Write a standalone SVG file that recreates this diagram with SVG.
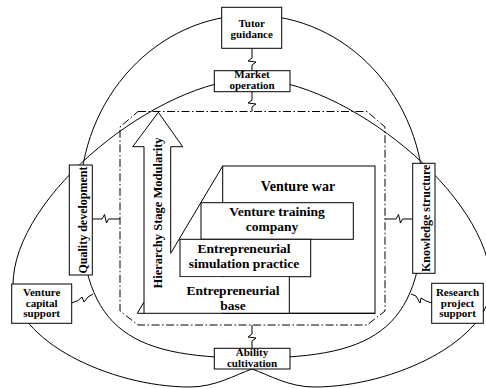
<svg xmlns="http://www.w3.org/2000/svg" width="486" height="389" viewBox="0 0 486 389">
<defs>
<style>
.c{fill:none;stroke:#000;stroke-width:1}
.b{fill:#fff;stroke:#000;stroke-width:1}
.w{fill:#fff;stroke:none}
.dd{fill:none;stroke:#000;stroke-width:1;stroke-dasharray:8 2.5 1.5 2.5}
.t{font-family:"Liberation Serif","Times New Roman",serif;font-weight:bold;fill:#000;text-anchor:middle}
.s{font-size:11px}
.v{font-size:12px}
.st{font-size:14px}
.st2{font-size:13.5px}
.h{font-size:12.5px}
</style>
</defs>
<rect width="486" height="389" fill="#fff"/>
<g id="rings">
<path class="c" d="M 252 15 C 157 15 80 98 80 200 C 80 326 123 358 252 358 C 381 358 424 326 424 200 C 424 98 347 15 252 15 Z"/>
<path class="c" d="M 252 79 C 160 79 13 195 13 285 C 13 340 110 387 190 387 C 215 387 235 375 252 369 C 269 375 289 387 314 387 C 394 387 491 340 491 285 C 491 195 344 79 252 79 Z"/>
</g>
<g id="core">
<path class="dd" d="M 138 111.5 H 367 L 385 127 V 311 L 367 325 H 138 L 120 311 V 127 Z"/>
</g>
<g id="stairs">
<rect class="b" x="222.7" y="166" width="152.3" height="147.3"/>
<rect class="b" x="201" y="202.7" width="152.3" height="36.6"/>
<rect class="b" x="180" y="239.3" width="130.7" height="37.4"/>
<rect class="w" x="150" y="277.2" width="139" height="35.6"/>
<path class="c" d="M 289.3 276.7 V 313.3 M 137.3 313.3 H 375 M 170.7 253.3 L 222.7 166 M 137.3 313.3 L 144 302"/>
<path class="c" d="M 144 313.3 V 146.7 H 132.7 L 158.3 112.3 L 182.7 146.7 H 170.7 V 253.3"/>
<text class="t h" transform="translate(161.5,213) rotate(-90)">Hierarchy Stage Modularity</text>
<text class="t st" x="298" y="191">Venture war</text>
<text class="t st2" y="216"><tspan x="277">Venture training</tspan><tspan x="272" dy="15">company</tspan></text>
<text class="t st2" y="252.5"><tspan x="244">Entrepreneurial</tspan><tspan x="244" dy="15">simulation practice</tspan></text>
<text class="t st2" y="294.5"><tspan x="233">Entrepreneurial</tspan><tspan x="233" dy="15">base</tspan></text>
</g>
<g id="connectors" class="c">
<path d="M 252 48.3 V 58 L 248 61 L 256 62 L 252 65 V 70.7"/>
<path d="M 252 91.7 V 100 L 248 103 L 256 104 L 252 107 V 111.5"/>
<path d="M 252 325 V 334 L 248 337 L 256 338 L 252 341 V 348.3"/>
<path d="M 92.3 219 H 102 L 104.5 214.5 L 106.5 223 L 108.5 219 H 120"/>
<path d="M 385 219 H 396 L 398.5 214.5 L 400.5 223 L 402.5 219 H 412.7"/>
<path d="M 71.7 303 L 78 300.5 L 82 297 L 84 302 L 88 297 L 93 294"/>
<path d="M 431.7 303 L 426 301 L 421 298 L 420 303 L 416 296 L 411 294"/>
</g>
<g id="tutor">
<rect class="b" x="221.7" y="7.3" width="60" height="41"/>
<text class="t s" y="27"><tspan x="251.7">Tutor</tspan><tspan x="251.7" dy="10.5">guidance</tspan></text>
</g>
<g id="market">
<rect class="b" x="214.3" y="70.7" width="75.7" height="21"/>
<text class="t s" y="78"><tspan x="252">Market</tspan><tspan x="252" dy="11">operation</tspan></text>
</g>
<g id="ability">
<rect class="b" x="214.3" y="348.3" width="75.7" height="20.7"/>
<text class="t s" y="356"><tspan x="252">Ability</tspan><tspan x="252" dy="10.8">cultivation</tspan></text>
</g>
<g id="quality">
<rect class="b" x="69.3" y="165" width="23" height="110"/>
<text class="t v" transform="translate(86.5,220) rotate(-90)">Quality development</text>
</g>
<g id="knowledge">
<rect class="b" x="412.7" y="163.3" width="22.3" height="110"/>
<text class="t v" transform="translate(429.5,218.3) rotate(-90)">Knowledge structure</text>
</g>
<g id="venture">
<rect class="b" x="11.7" y="284" width="60" height="39.3"/>
<text class="t s" y="296"><tspan x="41.7">Venture</tspan><tspan x="41.7" dy="10.5">capital</tspan><tspan x="41.7" dy="10.5">support</tspan></text>
</g>
<g id="research">
<rect class="b" x="431.7" y="283.3" width="51.6" height="40"/>
<text class="t s" y="296"><tspan x="457.5">Research</tspan><tspan x="457.5" dy="10.5">project</tspan><tspan x="457.5" dy="10.5">support</tspan></text>
</g>
</svg>
